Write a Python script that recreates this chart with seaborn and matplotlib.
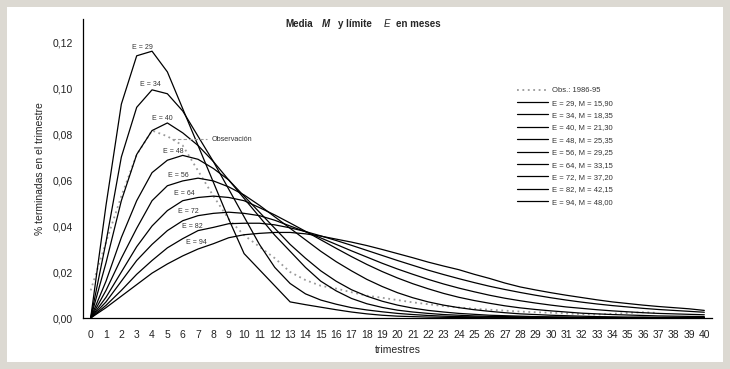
import numpy as np
import pandas as pd
import matplotlib
matplotlib.use("Agg")
import matplotlib.pyplot as plt
from matplotlib.patches import Rectangle
from matplotlib.ticker import FuncFormatter, MultipleLocator
import seaborn as sns

# ---------------------------------------------------------------------------
# Data
# ---------------------------------------------------------------------------
trimestres = list(range(41))

obs = [0.012, 0.033, 0.053, 0.071, 0.0815, 0.079, 0.075, 0.064, 0.053, 0.043,
       0.036, 0.031, 0.026, 0.020, 0.0165, 0.014, 0.0128, 0.0112, 0.0097, 0.0088,
       0.0078, 0.0068, 0.006, 0.0052, 0.0046, 0.004, 0.0036, 0.0032, 0.0028, 0.0025,
       0.0023, 0.002, 0.0017, 0.0015, 0.0018, 0.0022, 0.0025, 0.0022,
       np.nan, np.nan, np.nan]

e29 = [0, 0.049, 0.093, 0.114, 0.116, 0.107, 0.091, 0.075, 0.059, 0.043,
       0.028, 0.021, 0.014, 0.007, 0.0058, 0.0047, 0.0036, 0.0026, 0.0018, 0.0012,
       0.0008, 0.0006, 0.0004, 0.0003, 0.0002, 0.0002, 0.0001, 0.0001, 0.0001, 0.0001,
       0.0001, 0, 0, 0, 0, 0, 0, 0, 0, 0, 0]

e34 = [0, 0.033, 0.070, 0.0916, 0.0992, 0.0975, 0.090, 0.079, 0.068, 0.056,
       0.044, 0.032, 0.022, 0.015, 0.0105, 0.0078, 0.006, 0.0045, 0.0035, 0.0027,
       0.002, 0.0015, 0.0011, 0.0008, 0.0006, 0.0005, 0.0004, 0.0003, 0.0002, 0.0002,
       0.0001, 0.0001, 0.0001, 0.0001, 0, 0, 0, 0, 0, 0, 0]

e40 = [0, 0.024, 0.051, 0.0711, 0.0815, 0.0848, 0.0805, 0.075, 0.068, 0.060,
       0.052, 0.044, 0.036, 0.029, 0.022, 0.016, 0.0118, 0.0085, 0.0062, 0.0046,
       0.0034, 0.0026, 0.002, 0.0015, 0.0012, 0.0009, 0.0007, 0.0006, 0.0005, 0.0004,
       0.0003, 0.0003, 0.0002, 0.0002, 0.0002, 0.0001, 0.0001, 0.0001, 0.0001, 0.0001,
       0.0001]

e48 = [0, 0.016, 0.035, 0.051, 0.0632, 0.0686, 0.0707, 0.069, 0.065, 0.060,
       0.053, 0.046, 0.039, 0.032, 0.026, 0.0205, 0.016, 0.0123, 0.0095, 0.0073,
       0.0056, 0.0043, 0.0033, 0.0026, 0.002, 0.0016, 0.0012, 0.001, 0.0008, 0.0006,
       0.0005, 0.0004, 0.0003, 0.0003, 0.0002, 0.0002, 0.0002, 0.0001, 0.0001, 0.0001,
       0.0001]

e56 = [0, 0.012, 0.026, 0.039, 0.051, 0.0575, 0.0596, 0.0608, 0.0596, 0.057,
       0.0535, 0.049, 0.044, 0.039, 0.034, 0.029, 0.0245, 0.0205, 0.0168, 0.0137,
       0.011, 0.0088, 0.007, 0.0056, 0.0045, 0.0036, 0.0029, 0.0023, 0.0018, 0.0015,
       0.0012, 0.001, 0.0008, 0.0006, 0.0005, 0.0004, 0.0004, 0.0003, 0.0003, 0.0002,
       0.0002]

e64 = [0, 0.009, 0.020, 0.031, 0.040, 0.0467, 0.051, 0.0524, 0.053, 0.0524,
       0.051, 0.048, 0.0448, 0.0413, 0.0377, 0.034, 0.0303, 0.0267, 0.0233, 0.0202,
       0.0174, 0.0149, 0.0127, 0.0107, 0.009, 0.0076, 0.0064, 0.0053, 0.0044, 0.0037,
       0.0031, 0.0026, 0.0021, 0.0018, 0.0015, 0.0013, 0.0011, 0.0009, 0.0008, 0.0007,
       0.0006]

e72 = [0, 0.007, 0.016, 0.025, 0.032, 0.038, 0.0423, 0.0445, 0.0455, 0.046,
       0.0455, 0.0445, 0.0425, 0.040, 0.0375, 0.0348, 0.032, 0.0292, 0.0265, 0.0238,
       0.0213, 0.019, 0.0168, 0.0148, 0.013, 0.0114, 0.0099, 0.0086, 0.0075, 0.0065,
       0.0056, 0.0048, 0.0042, 0.0036, 0.0031, 0.0027, 0.0023, 0.002, 0.0018, 0.0016,
       0.0014]

e82 = [0, 0.0055, 0.012, 0.019, 0.025, 0.0305, 0.0345, 0.038, 0.0394, 0.041,
       0.0412, 0.0412, 0.0405, 0.0392, 0.0376, 0.0357, 0.0337, 0.0316, 0.0294, 0.0272,
       0.025, 0.0229, 0.0208, 0.0189, 0.0171, 0.0154, 0.0138, 0.0124, 0.0111, 0.0099,
       0.0088, 0.0078, 0.0069, 0.0061, 0.0054, 0.0048, 0.0042, 0.0037, 0.0033, 0.0029,
       0.0025]

e94 = [0, 0.0045, 0.0095, 0.0145, 0.0195, 0.0235, 0.027, 0.030, 0.0323, 0.0349,
       0.0362, 0.0368, 0.0372, 0.0372, 0.0366, 0.0356, 0.0343, 0.033, 0.0315, 0.0298,
       0.028, 0.0262, 0.0243, 0.0226, 0.021, 0.019, 0.0172, 0.0152, 0.0135, 0.0122,
       0.011, 0.0099, 0.0089, 0.0079, 0.0070, 0.0063, 0.0056, 0.005, 0.0045, 0.004,
       0.0033]

modelos = [e29, e34, e40, e48, e56, e64, e72, e82, e94]
limites = [29, 34, 40, 48, 56, 64, 72, 82, 94]
medias = ["15,90", "18,35", "21,30", "25,35", "29,25", "33,15", "37,20", "42,15", "48,00"]
# x position (in trimestres) of the small "E = .." label over each curve
label_x = [3.4, 3.9, 4.7, 5.4, 5.7, 6.1, 6.4, 6.6, 6.9]

# ---------------------------------------------------------------------------
# Figure
# ---------------------------------------------------------------------------
sns.set_style("white")
plt.rcParams["font.family"] = ["Liberation Sans", "DejaVu Sans"]

fig = plt.figure(figsize=(7.3, 3.69), dpi=100)
fig.patch.set_facecolor("#dcd9d2")
fig.patches.append(Rectangle((7 / 730, 7 / 369), 716 / 730, 355 / 369,
                             transform=fig.transFigure, facecolor="white",
                             edgecolor="none", zorder=-10))

ax = fig.add_axes([83 / 730, 51 / 369, 629 / 730, 299 / 369])
ax.set_facecolor("none")

obs_df = pd.DataFrame({"trimestre": trimestres, "valor": obs})
sns.lineplot(data=obs_df, x="trimestre", y="valor", ax=ax, color="#9a9a9a",
             lw=1.3, linestyle=(0, (1, 2)), label="Obs.: 1986-95")

for serie, e, m in zip(modelos, limites, medias):
    df = pd.DataFrame({"trimestre": trimestres, "valor": serie})
    sns.lineplot(data=df, x="trimestre", y="valor", ax=ax, color="black",
                 lw=0.9, label=f"E = {e}, M = {m}")

# curve labels
for serie, e, lx in zip(modelos, limites, label_x):
    ly = np.interp(lx, trimestres, serie)
    ax.annotate(f"E = {e}", (lx, ly), xytext=(0, 5), textcoords="offset points",
                ha="center", va="center", fontsize=5, color="#333333")

# observed label with leader line
oy = np.interp(5.3, trimestres, obs)
ax.plot([5.3, 7.6], [oy, oy], color="#9a9a9a", lw=0.8, linestyle=(0, (3, 2)))
ax.text(7.9, oy, "Observación", fontsize=5.2, color="#333333", va="center")

ax.set_xlim(-0.5, 40.5)
ax.set_ylim(0, 0.13)
ax.xaxis.set_major_locator(MultipleLocator(1))
ax.xaxis.set_minor_locator(MultipleLocator(1, offset=0.5))
ax.yaxis.set_major_locator(MultipleLocator(0.02))
ax.yaxis.set_major_formatter(FuncFormatter(lambda v, _: f"{v:.2f}".replace(".", ",")))
ax.tick_params(axis="x", which="major", length=0, labelsize=7.5, pad=9)
ax.tick_params(axis="x", which="minor", length=4, width=0.8, direction="out", color="black")
ax.tick_params(axis="y", length=4, width=0.8, direction="out", labelsize=7.5, color="black")
ax.tick_params(axis="both", colors="black", labelcolor="#222222")

for s in ["top", "right"]:
    ax.spines[s].set_visible(False)
for s in ["left", "bottom"]:
    ax.spines[s].set_color("black")
    ax.spines[s].set_linewidth(0.9)

ax.set_xlabel("trimestres", fontsize=7.5, labelpad=3)
ax.set_ylabel("% terminadas en el trimestre", fontsize=7.5, labelpad=5)

leg = ax.legend(loc="upper left", bbox_to_anchor=(517 / 730, 1 - 87 / 369),
                bbox_transform=fig.transFigure, frameon=False, fontsize=5.5,
                handlelength=4.1, handletextpad=0.5, labelspacing=0.66,
                borderpad=0, borderaxespad=0)
for t in leg.get_texts():
    t.set_color("#333333")

# title with italic M and E
ty = 1 - 24 / 369
fig.text(285 / 730, ty, "Media", fontsize=7, fontweight="bold", va="center")
fig.text(322 / 730, ty, "M", fontsize=7, fontweight="bold", style="italic", va="center")
fig.text(338 / 730, ty, "y límite", fontsize=7, fontweight="bold", va="center")
fig.text(384 / 730, ty, "E", fontsize=7, style="italic", va="center")
fig.text(396 / 730, ty, "en meses", fontsize=7, fontweight="bold", va="center")

fig.savefig("out.png", dpi=100)
plt.close(fig)
